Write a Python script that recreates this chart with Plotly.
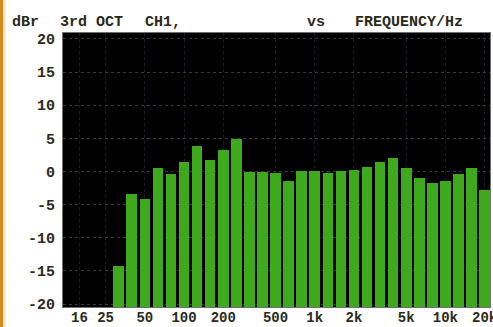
import math
import plotly.graph_objects as go

# 1/3-octave band centres (Hz) and measured level (dBr) in each band
BAND_HZ = [31.5, 40, 50, 63, 80, 100, 125, 160, 200, 250, 315, 400, 500, 630,
           800, 1000, 1250, 1600, 2000, 2500, 3150, 4000, 5000, 6300, 8000,
           10000, 12500, 16000, 20000]
LEVEL_DBR = [-14.3, -3.4, -4.2, 0.6, -0.4, 1.5, 3.8, 1.8, 3.2, 4.9, -0.1, -0.1,
             -0.3, -1.4, 0.1, 0.1, -0.3, 0.1, 0.2, 0.7, 1.5, 2.1, 0.5, -1.0,
             -1.8, -1.4, -0.4, 0.6, -2.8]

X_TICK_HZ = [16, 25, 50, 100, 200, 500, 1000, 2000, 5000, 10000, 20000]
X_TICK_TEXT = ["16", "25", "50", "100", "200", "500", "1k", "2k", "5k", "10k", "20k"]
Y_TICK_VALS = [20, 15, 10, 5, 0, -5, -10, -15, -20]
Y_TICK_TEXT = ["20", "15", "10", "5", "0", "-5", "-10", "-15", "-20"]

Y_MIN, Y_MAX = -20.45, 20.9
X_MIN, X_MAX = 1.074, 4.341


def band_pos(f):
    # third-octave bands sit on a 0.1-decade grid
    return round(10 * math.log10(f)) / 10


def bold(s):
    return "<b>" + s + "</b>"


FONT = "Liberation Mono"
INK = "#2a2a1c"

bar_x = [band_pos(f) for f in BAND_HZ]
fig = go.Figure(
    go.Bar(
        x=bar_x,
        y=[v - Y_MIN for v in LEVEL_DBR],
        base=Y_MIN,
        width=0.081,
        marker=dict(color="#3fa91d", line=dict(width=0)),
        hoverinfo="skip",
    )
)

W, H = 493, 327
ML, MR, MT, MB = 63, 3, 33, 20
PW, PH = W - ML - MR, H - MT - MB

fig.update_layout(
    width=W,
    height=H,
    margin=dict(l=ML, r=MR, t=MT, b=MB, pad=0, autoexpand=False),
    paper_bgcolor="white",
    plot_bgcolor="black",
    showlegend=False,
    bargap=0,
    font=dict(family=FONT, size=15, color=INK),
    xaxis=dict(
        range=[X_MIN, X_MAX],
        automargin=False,
        tickvals=[band_pos(f) for f in X_TICK_HZ],
        ticktext=[bold(t) for t in X_TICK_TEXT],
        ticklabeloverflow="allow",
        showgrid=True,
        gridcolor="#1c1c2c",
        griddash="dot",
        zeroline=False,
        ticks="",
        ticklabelstandoff=-3,
        showline=True,
        linecolor="#707070",
        linewidth=1,
        mirror=True,
        tickfont=dict(family=FONT, size=14, color=INK),
    ),
    yaxis=dict(
        range=[Y_MIN, Y_MAX],
        automargin=False,
        tickvals=Y_TICK_VALS,
        ticktext=[bold(t) for t in Y_TICK_TEXT],
        showgrid=True,
        gridcolor="#3a3a3a",
        griddash="dot",
        gridwidth=1,
        zeroline=False,
        ticks="",
        ticklabelstandoff=4,
        showline=True,
        linecolor="#707070",
        linewidth=1,
        mirror=True,
        tickfont=dict(family=FONT, size=15, color=INK),
    ),
)

# heading words across the top
heading = [("dBr", 10), ("3rd OCT", 58), ("CH1,", 143), ("vs", 305), ("FREQUENCY/Hz", 353)]
for text, px in heading:
    fig.add_annotation(
        text=bold(text),
        xref="paper", yref="paper",
        x=(px - ML) / PW, y=(H - MB - 22) / PH,
        xanchor="left", yanchor="middle",
        showarrow=False,
        font=dict(family=FONT, size=15, color=INK),
    )

# orange page edge on the left
fig.add_shape(type="rect", xref="paper", yref="paper",
              x0=(0 - ML) / PW, x1=(3.5 - ML) / PW,
              y0=-MB / PH, y1=(H - MB) / PH,
              fillcolor="#d08a1e", line=dict(width=0), layer="above")
fig.add_shape(type="rect", xref="paper", yref="paper",
              x0=(3.5 - ML) / PW, x1=(6 - ML) / PW,
              y0=-MB / PH, y1=(H - MB) / PH,
              fillcolor="#f8ecc8", line=dict(width=0), layer="above")

fig.write_html("out.html")
